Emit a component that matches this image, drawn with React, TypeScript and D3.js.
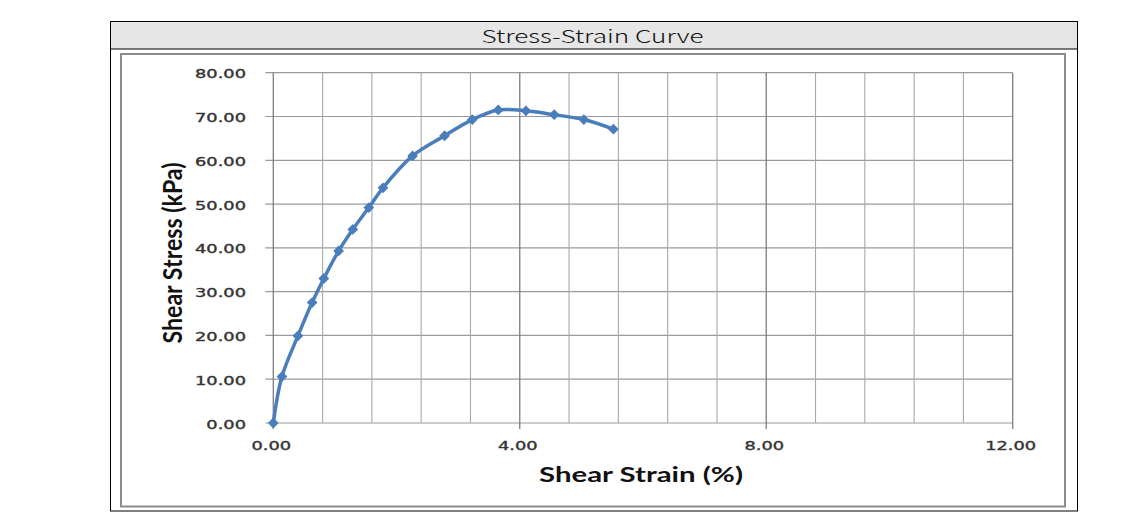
import React from "react";
import * as d3 from "d3";

const strain = [0, 0.14, 0.4, 0.63, 0.82, 1.06, 1.29, 1.55, 1.78, 2.26, 2.78, 3.23, 3.65, 4.1, 4.56, 5.04, 5.52];
const stress = [0, 10.6, 19.9, 27.5, 33.0, 39.3, 44.2, 49.2, 53.7, 61.0, 65.6, 69.3, 71.5, 71.3, 70.4, 69.3, 67.1];
const xMajorTicks = [0, 4, 8, 12];
const xTickLabels = ["0.00", "4.00", "8.00", "12.00"];
const yTicks = [0, 10, 20, 30, 40, 50, 60, 70, 80];
const yTickLabels = ["0.00", "10.00", "20.00", "30.00", "40.00", "50.00", "60.00", "70.00", "80.00"];
const xMinorStep = 0.8;
const title = "Stress-Strain Curve";
const xTitle = "Shear Strain (%)";
const yTitle = "Shear Stress (kPa)";

export default function App() {
  const x = d3.scaleLinear().domain([0, 12]).range([273.3, 1012.7]);
  const y = d3.scaleLinear().domain([0, 80]).range([423, 72.7]);
  const xMinor = d3.range(0, 12 + 1e-6, xMinorStep);
  const pts = strain.map((s, i) => [s, stress[i]] as [number, number]);
  const line = d3
    .line<[number, number]>()
    .x((d) => x(d[0]))
    .y((d) => y(d[1]))
    .curve(d3.curveCatmullRom.alpha(0.5));
  const marker = d3.symbol().type(d3.symbolSquare).size(58)();
  const isMajor = (v: number) => xMajorTicks.some((m) => Math.abs(m - v) < 1e-6);
  const labelColor = "#333";

  return (
    <svg
      width={1138}
      height={530}
      style={{ position: "absolute", left: 0, top: 0, background: "#fff" }}
    >
      {/* outer table */}
      <rect x={110.5} y={21.5} width={967} height={489.5} fill="#fff" stroke="#000" strokeWidth={1} />
      <rect x={110.5} y={21.5} width={967} height={27.5} fill="#e6e6e6" stroke="#000" strokeWidth={1} />
      <text
        x={592.5}
        y={43}
        textAnchor="middle"
        fontFamily="'Noto Sans CJK KR', 'Noto Sans', sans-serif"
        fontWeight={300}
        fontSize={18}
        fill="#111"
        textLength={222}
        lengthAdjust="spacingAndGlyphs"
      >
        {title}
      </text>

      {/* chart frame */}
      <rect x={121} y={54} width={944} height={452.5} fill="#fff" stroke="#8c8c8c" strokeWidth={2} />

      {/* horizontal gridlines */}
      {yTicks.map((t) => (
        <line key={"hy" + t} x1={x(0) - 8} x2={x(12)} y1={y(t)} y2={y(t)} stroke="#9a9a9a" strokeWidth={1.2} />
      ))}
      {/* vertical gridlines */}
      {xMinor.map((t, i) => (
        <line
          key={"vx" + i}
          x1={x(t)}
          x2={x(t)}
          y1={y(80)}
          y2={isMajor(t) ? y(0) + 6 : y(0)}
          stroke={isMajor(t) ? "#7d7d7d" : "#a8a8a8"}
          strokeWidth={isMajor(t) ? 1.3 : 1.1}
        />
      ))}

      {/* y tick labels */}
      {yTicks.map((t, i) => (
        <g key={"yl" + t} transform={`translate(246,${y(t) + 5.5}) scale(1.55,1)`}>
          <text
            textAnchor="end"
            fontFamily="'DejaVu Sans', sans-serif"
            fontSize={11.5}
            fill={labelColor}
            stroke={labelColor}
            strokeWidth={0.35}
          >
            {yTickLabels[i]}
          </text>
        </g>
      ))}
      {/* x tick labels */}
      {xMajorTicks.map((t, i) => (
        <g key={"xl" + t} transform={`translate(${x(t) - 2},450) scale(1.55,1)`}>
          <text
            textAnchor="middle"
            fontFamily="'DejaVu Sans', sans-serif"
            fontSize={11.5}
            fill={labelColor}
            stroke={labelColor}
            strokeWidth={0.35}
          >
            {xTickLabels[i]}
          </text>
        </g>
      ))}

      {/* axis titles */}
      <text
        x={641}
        y={482}
        textAnchor="middle"
        fontFamily="Lato, 'Open Sans', sans-serif"
        fontWeight={700}
        fontSize={20}
        fill="#111"
        textLength={204}
        lengthAdjust="spacingAndGlyphs"
      >
        {xTitle}
      </text>
      <g transform="translate(182,253) scale(1.3,1) rotate(-90)">
        <text
          x={0}
          y={0}
          textAnchor="middle"
          fontFamily="Lato, 'Open Sans', sans-serif"
          fontWeight={700}
          fontSize={20}
          fill="#111"
          textLength={181}
          lengthAdjust="spacingAndGlyphs"
        >
          {yTitle}
        </text>
      </g>

      {/* data */}
      <path d={line(pts) || ""} fill="none" stroke="#4a7ebb" strokeWidth={3.5} strokeLinejoin="round" />
      {pts.map((p, i) => (
        <path
          key={"m" + i}
          d={marker || ""}
          transform={`translate(${x(p[0])},${y(p[1])}) rotate(45)`}
          fill="#4a7ebb"
        />
      ))}
    </svg>
  );
}
